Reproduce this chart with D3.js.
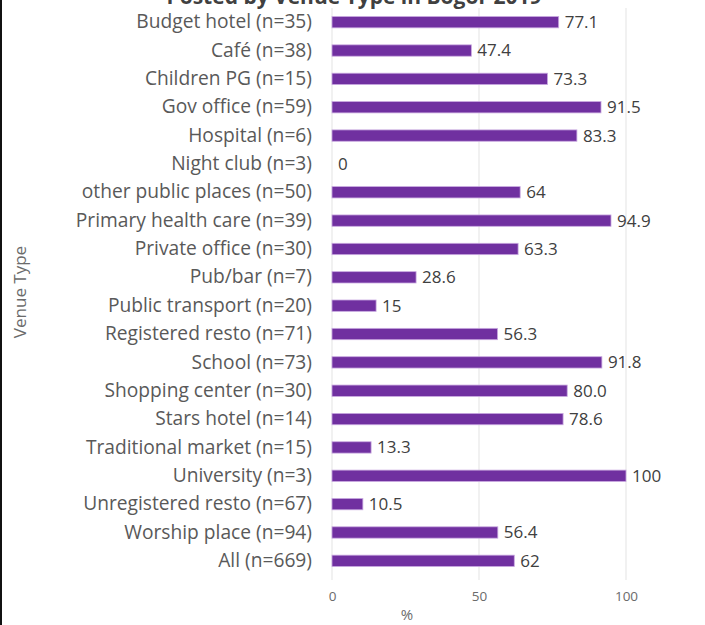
<!DOCTYPE html>
<html lang="en">
<head>
<meta charset="UTF-8">
<title>Venue Type</title>
<script src="https://cdn.jsdelivr.net/npm/d3@7"></script>
<style>
  body { margin: 0; background: #fff; }
  text { font-family: "Open Sans", sans-serif; }
</style>
</head>
<body>
<svg width="705" height="625"></svg>
<script>
// data
var categories = ["Budget hotel (n=35)", "Café (n=38)", "Children PG (n=15)", "Gov office (n=59)",
  "Hospital (n=6)", "Night club (n=3)", "other public places (n=50)", "Primary health care (n=39)",
  "Private office (n=30)", "Pub/bar (n=7)", "Public transport (n=20)", "Registered resto (n=71)",
  "School (n=73)", "Shopping center (n=30)", "Stars hotel (n=14)", "Traditional market (n=15)",
  "University (n=3)", "Unregistered resto (n=67)", "Worship place (n=94)", "All (n=669)"];
var values = [77.1, 47.4, 73.3, 91.5, 83.3, 0, 64, 94.9, 63.3, 28.6, 15, 56.3, 91.8, 80.0, 78.6, 13.3, 100, 10.5, 56.4, 62];
var valueLabels = ["77.1", "47.4", "73.3", "91.5", "83.3", "0", "64", "94.9", "63.3", "28.6", "15", "56.3",
  "91.8", "80.0", "78.6", "13.3", "100", "10.5", "56.4", "62"];
var xTicks = [0, 50, 100];

var svg = d3.select('svg');

// black edge on the left
svg.append('rect').attr('x', 0).attr('y', 0).attr('width', 2).attr('height', 625).attr('fill', '#111');

var x = d3.scaleLinear().domain([0, 100]).range([332, 626]);
var y = d3.scaleBand().domain(categories).range([8, 575]).paddingInner(0.6).paddingOuter(0.3);

// title (cut off at the top, as in the source image)
svg.append('text')
  .attr('x', 354).attr('y', 4)
  .attr('text-anchor', 'middle')
  .attr('font-size', 21).attr('font-weight', 'bold').attr('fill', '#404040')
  .text('Posted by Venue Type in Bogor 2019');

// gridlines
svg.append('g').selectAll('line')
  .data(xTicks).enter().append('line')
  .attr('x1', d => x(d)).attr('x2', d => x(d))
  .attr('y1', 8).attr('y2', 580)
  .attr('stroke', '#e3e3e3').attr('stroke-width', 1);

// x axis
var xAxis = svg.append('g')
  .attr('transform', 'translate(0,580)')
  .call(d3.axisBottom(x).tickValues(xTicks).tickSize(0).tickPadding(11));
xAxis.select('.domain').remove();
xAxis.selectAll('text').attr('font-size', 13.5).attr('fill', '#6b6b6b').attr('font-family', '"Open Sans", sans-serif');

svg.append('text').attr('x', 407).attr('y', 620).attr('text-anchor', 'middle')
  .attr('font-size', 15).attr('fill', '#6b6b6b').text('%');

// y axis
var yAxis = svg.append('g')
  .attr('transform', 'translate(332,0)')
  .call(d3.axisLeft(y).tickSize(0).tickPadding(20));
yAxis.select('.domain').remove();
yAxis.selectAll('text').attr('font-size', 19.2).attr('fill', '#595959').attr('font-family', '"Open Sans", sans-serif');

svg.append('text')
  .attr('transform', 'translate(26,292) rotate(-90)')
  .attr('text-anchor', 'middle')
  .attr('font-size', 17).attr('fill', '#6b6b6b').text('Venue Type');

// bars
svg.append('g').selectAll('rect')
  .data(values).enter().append('rect')
  .attr('x', x(0))
  .attr('y', (d, i) => y(categories[i]))
  .attr('width', d => x(d) - x(0))
  .attr('height', y.bandwidth())
  .attr('fill', '#7030a0')
  .attr('stroke', '#c9a9e0').attr('stroke-width', 0.8);

// value labels
svg.append('g').selectAll('text')
  .data(values).enter().append('text')
  .attr('x', d => x(d) + 6)
  .attr('y', (d, i) => y(categories[i]) + y.bandwidth() / 2)
  .attr('dy', '0.35em')
  .attr('font-size', 17).attr('fill', '#404040')
  .text((d, i) => valueLabels[i]);
</script>
</body>
</html>
